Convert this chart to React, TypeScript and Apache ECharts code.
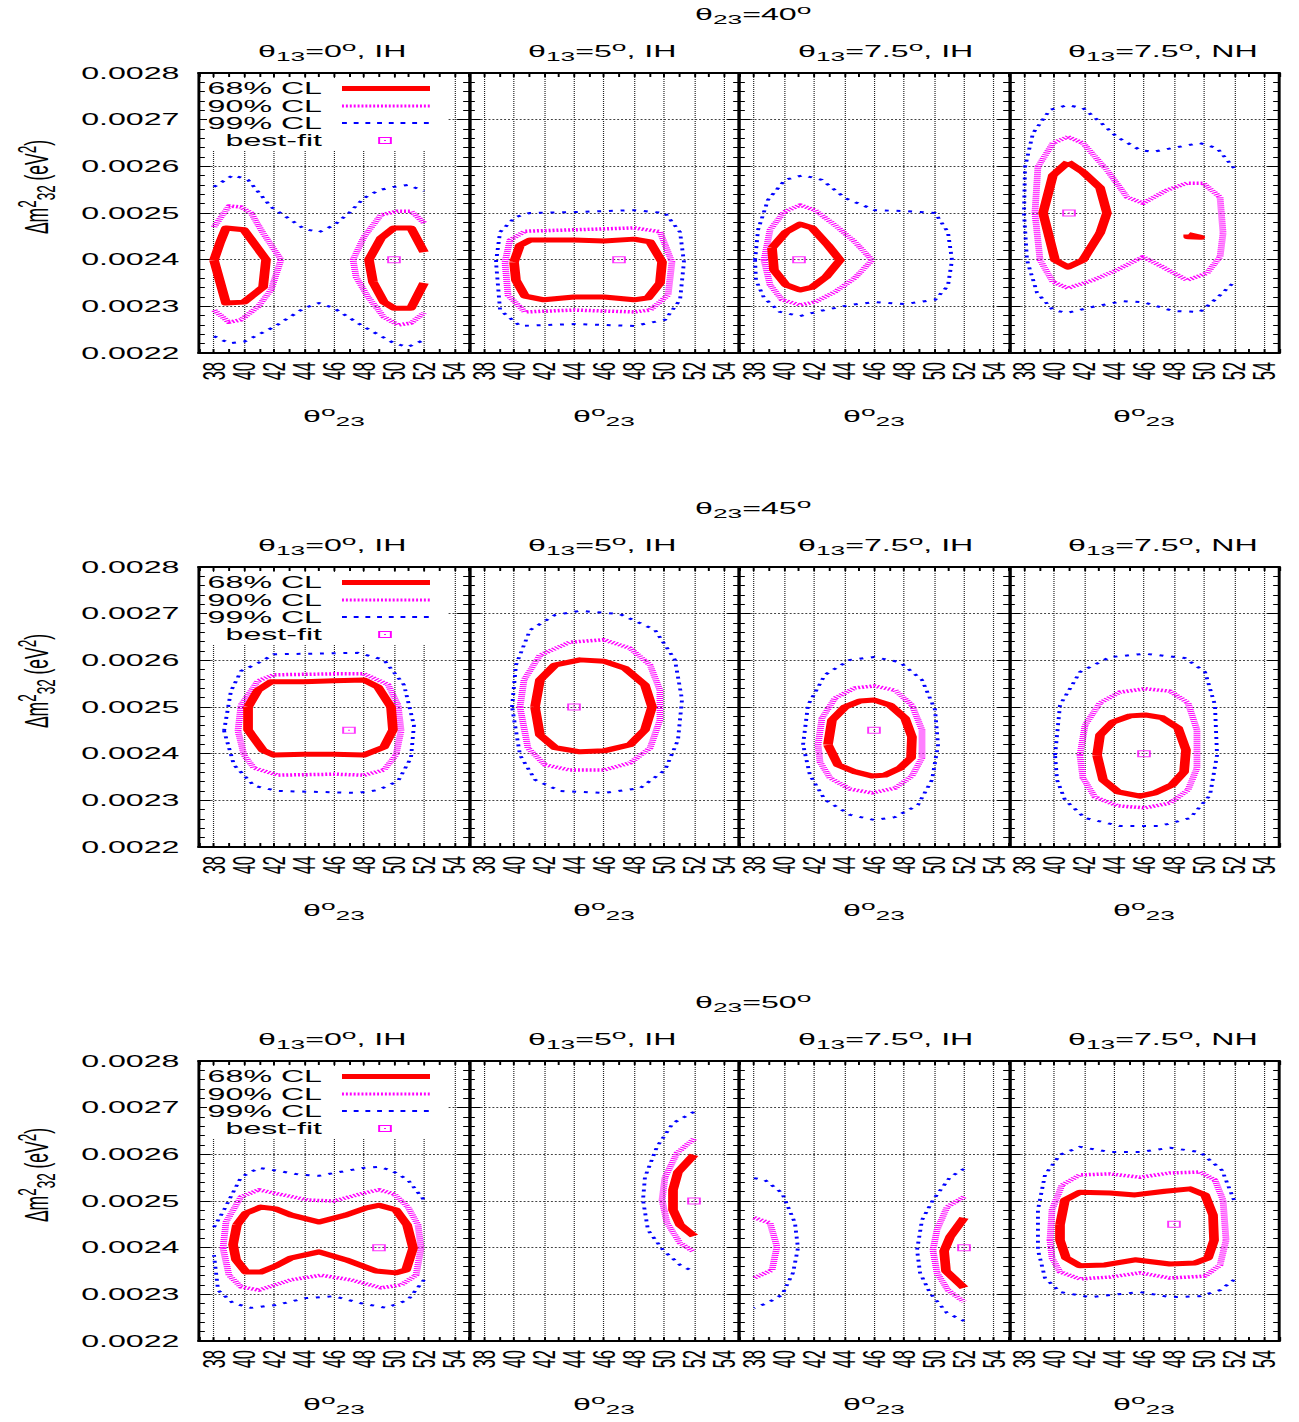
import React, { useEffect, useRef } from 'react';
import * as echarts from 'echarts';

type Pt = [number, number];
type Segment = Pt[];
type PanelContour = Segment[];

// The figure is laid out narrow and widened horizontally by CSS.
const STRETCH = 1.95;
const PAGE_W = 1299;
const PAGE_H = 1422;
const FONT = '"Liberation Sans", Arial, Helvetica, sans-serif';

// ---------- labels ----------
const theta23Values = ['40', '45', '50'];
const panelTheta13 = ['0', '5', '7.5', '7.5'];
const panelHierarchy = ['IH', 'IH', 'IH', 'NH'];
const legendNames = ['68% CL', '90% CL', '99% CL', 'best-fit'];
const xTickValues = [38, 40, 42, 44, 46, 48, 50, 52, 54];
const xRange: [number, number] = [37, 55];
const yRange: [number, number] = [0.0022, 0.0028];

// ---------- θ23 = 40° ----------
const row40_cl68: PanelContour[] = [
  [
    [[38.0, 0.002399], [38.4, 0.002436], [38.8, 0.002468], [40.0, 0.002464], [41.47, 0.0024], [41.27, 0.002341], [40.0, 0.002309], [38.8, 0.002307], [38.0, 0.002399]],
    [[52, 0.002416], [51.13, 0.002468], [50.0, 0.002468], [49.13, 0.002446], [48.33, 0.0024], [48.6, 0.002352], [49.33, 0.002309], [50.0, 0.002296], [51.13, 0.002296], [52, 0.00235]],
  ],
  [
    [[40, 0.002395], [40.4, 0.002431], [41.07, 0.002442], [44, 0.002442], [46, 0.00244], [48, 0.002444], [49.07, 0.002438], [49.87, 0.002395], [49.73, 0.00235], [48.93, 0.002318], [48, 0.002314], [46, 0.00232], [44, 0.00232], [42, 0.002314], [40.73, 0.002322], [40.13, 0.002356], [40, 0.002395]],
  ],
  [
    [[39.2, 0.002425], [40.13, 0.002459], [41.07, 0.002476], [41.87, 0.002468], [42.93, 0.002431], [43.73, 0.002399], [42.8, 0.002363], [41.87, 0.002341], [41.07, 0.002335], [40.13, 0.002346], [39.33, 0.002378], [39.2, 0.002425]],
  ],
  [
    [[40.93, 0.002609], [41.93, 0.002588], [43.07, 0.002554], [43.53, 0.0025], [43.07, 0.002457], [41.93, 0.002399], [40.93, 0.002384], [40.07, 0.002399], [39.27, 0.0025], [39.93, 0.002581], [40.93, 0.002609]],
    [[48.95, 0.002454], [48.95, 0.002449], [49.75, 0.002448], [48.95, 0.002454]],
  ],
];
const row40_cl90: PanelContour[] = [
  [
    [[38, 0.00247], [39, 0.002515], [39.8, 0.002513], [40.47, 0.0025], [41.27, 0.002457], [42.47, 0.0024], [41.8, 0.002335], [40.93, 0.002299], [39.8, 0.002271], [39, 0.002266], [38, 0.002292]],
    [[52, 0.002479], [51.13, 0.002504], [50.27, 0.002504], [49.13, 0.002496], [48.0, 0.002449], [47.27, 0.0024], [47.47, 0.002363], [48.27, 0.00232], [49.33, 0.002277], [50.27, 0.00226], [51.13, 0.002264], [52, 0.002286]],
  ],
  [
    [[39.4, 0.002395], [39.73, 0.002442], [40.73, 0.002461], [44, 0.002464], [48, 0.002468], [49.73, 0.00246], [50.53, 0.002395], [50.27, 0.002324], [49.07, 0.002292], [48, 0.002288], [44, 0.002292], [40.73, 0.002288], [39.6, 0.002324], [39.4, 0.002395]],
  ],
  [
    [[38.67, 0.002399], [39.07, 0.002464], [40, 0.002502], [41.07, 0.002517], [42.07, 0.002506], [43.4, 0.002474], [44.73, 0.002438], [45.87, 0.002399], [44.73, 0.002361], [43.4, 0.002331], [42.07, 0.002309], [41.07, 0.002303], [39.87, 0.002314], [39.07, 0.002346], [38.67, 0.002399]],
  ],
  [
    [[40.93, 0.002663], [41.93, 0.00265], [43.53, 0.002592], [44.87, 0.002534], [45.93, 0.002521], [47.53, 0.002549], [48.87, 0.002564], [49.93, 0.002564], [51.07, 0.002534], [51.27, 0.002457], [51.07, 0.002406], [50.2, 0.002371], [48.87, 0.002356], [47.27, 0.002384], [45.93, 0.002406], [44.2, 0.002378], [42.6, 0.002356], [40.93, 0.002339], [39.93, 0.002352], [39.07, 0.002399], [38.73, 0.0025], [38.93, 0.002599], [39.93, 0.00265], [40.93, 0.002663]],
  ],
];
const row40_cl99: PanelContour[] = [
  [
    [[38, 0.002556], [39.27, 0.002581], [40.27, 0.002571], [41.8, 0.002513], [43.13, 0.002485], [44, 0.002466], [45, 0.002459], [46, 0.002474], [47, 0.0025], [48, 0.002532], [49, 0.002549], [50, 0.002556], [50.93, 0.00256], [52, 0.002547]],
    [[38, 0.002236], [39, 0.002221], [40, 0.002224], [42, 0.002256], [44, 0.002296], [45, 0.002307], [46, 0.002296], [48, 0.002256], [50, 0.002221], [50.93, 0.002213], [52, 0.002228]],
  ],
  [
    [[38.8, 0.002395], [39.07, 0.002459], [40.07, 0.002491], [41.07, 0.0025], [44, 0.002502], [48, 0.002506], [50.07, 0.0025], [51.07, 0.002459], [51.33, 0.002395], [51.07, 0.002314], [50.07, 0.002271], [48, 0.002258], [44, 0.002262], [40.4, 0.002258], [39.07, 0.002292], [38.8, 0.002395]],
  ],
  [
    [[38.07, 0.002399], [38.27, 0.002464], [38.93, 0.002528], [40.07, 0.002571], [41.27, 0.002581], [42.53, 0.002571], [44.07, 0.002532], [46.07, 0.002506], [48.07, 0.002504], [50.07, 0.0025], [50.93, 0.002459], [51.2, 0.002399], [50.93, 0.002344], [50.07, 0.002314], [48.07, 0.002305], [46.07, 0.002309], [44.4, 0.002303], [42.4, 0.00229], [41.07, 0.002279], [39.73, 0.002288], [38.67, 0.002318], [38.13, 0.002356], [38.07, 0.002399]],
  ],
  [
    [[52, 0.002596], [50.87, 0.002639], [49.73, 0.00265], [48.2, 0.002641], [46.6, 0.002631], [45.73, 0.002635], [44.2, 0.002663], [43.07, 0.002695], [41.93, 0.002725], [40.87, 0.002731], [39.73, 0.002721], [38.6, 0.002671], [38.07, 0.002599], [38.0, 0.0025], [38.2, 0.002399], [38.87, 0.002329], [39.93, 0.002292], [40.87, 0.002286], [42.6, 0.002299], [44.6, 0.002311], [45.93, 0.002309], [47.93, 0.00229], [49.73, 0.002288], [50.87, 0.002318], [52, 0.002352]],
  ],
];
const row40_bestFit: Pt[] = [[50, 0.0024], [47, 0.0024], [41, 0.0024], [41, 0.0025]];

// ---------- θ23 = 45° ----------
const row45_cl68: PanelContour[] = [
  [
    [[40.27, 0.0025], [40.93, 0.002536], [41.8, 0.002554], [44, 0.002554], [46, 0.002556], [48, 0.002558], [48.93, 0.002543], [49.8, 0.0025], [49.93, 0.002451], [49.33, 0.002414], [48, 0.002397], [46, 0.002399], [44, 0.002399], [42, 0.002397], [41.27, 0.002407], [40.27, 0.002451], [40.27, 0.0025]],
  ],
  [
    [[41.4, 0.0025], [41.73, 0.002558], [42.73, 0.00259], [44.4, 0.002601], [46, 0.002598], [47.4, 0.002583], [48.73, 0.002547], [49.2, 0.0025], [48.73, 0.002451], [47.73, 0.002419], [46, 0.002406], [44.4, 0.002404], [42.73, 0.002413], [41.73, 0.00244], [41.4, 0.0025]],
  ],
  [
    [[42.93, 0.002419], [43.2, 0.002472], [44.07, 0.0025], [45.07, 0.002513], [46, 0.002515], [47.07, 0.002504], [48.07, 0.002476], [48.53, 0.002436], [48.47, 0.002391], [47.73, 0.002369], [46.73, 0.002354], [45.87, 0.002352], [44.73, 0.002361], [43.6, 0.002376], [42.93, 0.002419]],
  ],
  [
    [[42.87, 0.002397], [43.07, 0.00244], [43.93, 0.002468], [45.07, 0.002481], [46.07, 0.002483], [47.2, 0.002477], [48.27, 0.002455], [48.8, 0.002408], [48.67, 0.002361], [47.87, 0.002333], [46.73, 0.002316], [45.73, 0.002309], [44.27, 0.002318], [43.27, 0.002344], [42.87, 0.002397]],
  ],
];
const row45_cl90: PanelContour[] = [
  [
    [[39.6, 0.002449], [39.8, 0.002504], [40.93, 0.002556], [42, 0.002569], [46, 0.002571], [48, 0.002571], [49.6, 0.002548], [50.27, 0.002504], [50.47, 0.002449], [50.13, 0.002397], [49.33, 0.002365], [48, 0.002354], [46, 0.002356], [42.27, 0.002354], [40.67, 0.002369], [40, 0.002397], [39.6, 0.002449]],
  ],
  [
    [[40.4, 0.0025], [40.67, 0.002558], [41.73, 0.002611], [43.73, 0.002639], [46, 0.002644], [47.73, 0.002626], [49.07, 0.00259], [49.73, 0.002536], [49.73, 0.002472], [49.07, 0.002412], [47.73, 0.00238], [46, 0.002365], [43.73, 0.002365], [42.07, 0.002376], [40.93, 0.002412], [40.4, 0.0025]],
  ],
  [
    [[42.27, 0.002419], [42.53, 0.002476], [43.4, 0.002519], [44.73, 0.002541], [46, 0.002545], [47.4, 0.002536], [48.53, 0.002504], [49.2, 0.002451], [49.2, 0.002391], [48.53, 0.002352], [47.4, 0.002326], [45.87, 0.002316], [44.4, 0.002324], [43.07, 0.002348], [42.4, 0.002382], [42.27, 0.002419]],
  ],
  [
    [[41.73, 0.002397], [42.07, 0.002461], [43.07, 0.002509], [44.4, 0.002532], [46.07, 0.002539], [47.73, 0.002534], [48.93, 0.002509], [49.53, 0.002451], [49.53, 0.002369], [48.93, 0.002322], [47.73, 0.002294], [46.07, 0.002284], [44.27, 0.002288], [42.73, 0.002307], [41.93, 0.002348], [41.73, 0.002397]],
  ],
];
const row45_cl99: PanelContour[] = [
  [
    [[38.67, 0.002449], [39.13, 0.002534], [39.8, 0.002577], [40.93, 0.002594], [42, 0.002613], [47.6, 0.002616], [49.33, 0.002601], [50.67, 0.002547], [51.33, 0.002461], [51.13, 0.002391], [50.27, 0.002341], [48.93, 0.002322], [47.6, 0.002316], [42.27, 0.00232], [40.67, 0.002331], [39.33, 0.002376], [38.67, 0.002449]],
  ],
  [
    [[39.87, 0.0025], [40.13, 0.00259], [41.07, 0.002665], [42.73, 0.002697], [44.4, 0.002706], [47.07, 0.002699], [49.4, 0.002665], [50.73, 0.002601], [51.2, 0.002516], [50.93, 0.002429], [50.07, 0.002365], [48.4, 0.002326], [46, 0.002316], [43.07, 0.00232], [41.4, 0.002344], [40.4, 0.002397], [39.87, 0.0025]],
  ],
  [
    [[41.27, 0.002419], [41.6, 0.002504], [42.73, 0.002569], [44.4, 0.002601], [46, 0.002607], [47.73, 0.002596], [49.2, 0.002558], [50.07, 0.002494], [50.27, 0.002419], [49.87, 0.002344], [48.93, 0.00229], [47.4, 0.002264], [46, 0.002258], [44.4, 0.002269], [42.73, 0.002301], [41.73, 0.002354], [41.27, 0.002419]],
  ],
  [
    [[40.07, 0.002397], [40.4, 0.002504], [41.73, 0.002575], [43.73, 0.002607], [46.07, 0.002614], [48.73, 0.002605], [50.07, 0.002575], [50.73, 0.002504], [50.87, 0.002397], [50.4, 0.002311], [49.07, 0.002262], [47.07, 0.002245], [44.4, 0.002245], [42.07, 0.002262], [40.73, 0.002301], [40.2, 0.002344], [40.07, 0.002397]],
  ],
];
const row45_bestFit: Pt[] = [[47, 0.00245], [44, 0.0025], [46, 0.00245], [46, 0.0024]];

// ---------- θ23 = 50° ----------
const row50_cl68: PanelContour[] = [
  [
    [[39.53, 0.002449], [40.13, 0.002474], [41.13, 0.002487], [42.13, 0.002483], [43.13, 0.00247], [45, 0.002455], [46.8, 0.00247], [48.13, 0.002485], [49, 0.002491], [50.13, 0.002481], [50.87, 0.002449], [51.27, 0.002399], [50.8, 0.002352], [50.13, 0.002346], [48.8, 0.00235], [46.8, 0.002374], [45, 0.002391], [43.13, 0.002378], [42.13, 0.002361], [41.13, 0.002348], [40.13, 0.002348], [39.47, 0.002374], [39.27, 0.002406], [39.53, 0.002449]],
  ],
  [
    [[52, 0.002599], [50.93, 0.002562], [50.6, 0.002524], [50.6, 0.002481], [51.07, 0.002449], [52, 0.002425]],
  ],
  [
    [[52, 0.002464], [51.07, 0.002423], [50.67, 0.002393], [50.8, 0.00235], [52, 0.002314]],
  ],
  [
    [[40.4, 0.002449], [40.73, 0.002502], [41.73, 0.002519], [43.73, 0.002517], [45.4, 0.002513], [47.4, 0.002521], [49.07, 0.002526], [50.07, 0.002513], [50.6, 0.00247], [50.67, 0.002416], [50.27, 0.002378], [49.4, 0.002367], [47.73, 0.002365], [45.4, 0.002374], [43.4, 0.002363], [41.73, 0.002361], [40.8, 0.002378], [40.4, 0.002416], [40.4, 0.002449]],
  ],
];
const row50_cl90: PanelContour[] = [
  [
    [[38.6, 0.002399], [38.8, 0.002455], [39.8, 0.002509], [41, 0.002524], [42, 0.002517], [44.27, 0.002502], [46, 0.0025], [48, 0.002517], [49, 0.002524], [50, 0.002515], [50.93, 0.002487], [51.6, 0.002449], [51.8, 0.002399], [51.47, 0.002341], [50.47, 0.00232], [49.13, 0.002314], [47.13, 0.002331], [45.13, 0.002341], [43.13, 0.002331], [41, 0.002309], [39.8, 0.002316], [39, 0.002341], [38.6, 0.002399]],
  ],
  [
    [[52, 0.002633], [50.87, 0.002603], [50.07, 0.002551], [49.87, 0.002502], [50.2, 0.002453], [51.07, 0.00241], [52, 0.002391]],
  ],
  [
    [[38, 0.002464], [39.07, 0.002453], [39.53, 0.002402], [39.2, 0.002352], [38, 0.002335]],
    [[52, 0.002509], [50.87, 0.002487], [50.2, 0.002438], [49.93, 0.002395], [50.2, 0.002346], [50.93, 0.002309], [52, 0.002284]],
  ],
  [
    [[39.73, 0.002416], [39.87, 0.002481], [40.53, 0.002534], [41.73, 0.002556], [43.73, 0.002558], [45.73, 0.002551], [47.73, 0.00256], [49.73, 0.002562], [50.73, 0.002545], [51.27, 0.002502], [51.47, 0.002416], [51.07, 0.002363], [50.07, 0.002339], [47.73, 0.002335], [45.73, 0.002346], [43.73, 0.002337], [41.73, 0.002333], [40.4, 0.002348], [39.87, 0.002378], [39.73, 0.002416]],
  ],
];
const row50_cl99: PanelContour[] = [
  [
    [[38, 0.002444], [38.67, 0.002481], [39.8, 0.002551], [41, 0.002571], [42, 0.002566], [43.8, 0.002556], [45, 0.002554], [46, 0.00256], [48, 0.002571], [49, 0.002573], [49.8, 0.002566], [50.93, 0.002545], [52, 0.002502]],
    [[52, 0.002331], [50.93, 0.002288], [49.47, 0.002271], [47.8, 0.002281], [46, 0.002296], [44.13, 0.002292], [42.13, 0.002277], [40.47, 0.002271], [39.27, 0.002281], [38.27, 0.002309], [38, 0.002384]],
  ],
  [
    [[52, 0.002691], [50.6, 0.002667], [49.53, 0.002616], [48.73, 0.002551], [48.6, 0.002502], [48.93, 0.002438], [49.93, 0.002395], [51.07, 0.002363], [52, 0.002348]],
  ],
  [
    [[38, 0.002549], [38.73, 0.002545], [39.87, 0.002517], [40.73, 0.002453], [40.93, 0.002399], [40.6, 0.002346], [39.87, 0.002299], [38.87, 0.002281], [38, 0.002271]],
    [[52, 0.002569], [51.07, 0.002551], [49.93, 0.002502], [49.2, 0.002459], [48.87, 0.002395], [49.07, 0.002346], [49.73, 0.002303], [50.87, 0.00226], [52, 0.002243]],
  ],
  [
    [[52, 0.002502], [51.2, 0.002566], [49.73, 0.002605], [47.73, 0.002614], [45.73, 0.002605], [43.73, 0.002605], [41.73, 0.002616], [40.4, 0.002599], [39.4, 0.002556], [38.93, 0.002481], [38.93, 0.002395], [39.4, 0.002335], [40.4, 0.002305], [42.4, 0.002294], [45.73, 0.002305], [47.73, 0.002294], [49.73, 0.002296], [51.07, 0.002309], [52, 0.002331]],
  ],
];
const row50_bestFit: Pt[] = [[49, 0.0024], [52, 0.0025], [52, 0.0024], [48, 0.00245]];

// ---------- styling ----------
const clStyles = [
  { color: '#ff0000', width: 5, type: 'solid' as any },
  { color: '#ff00ff', width: 3.5, type: [1, 1] as any },
  { color: '#0000ff', width: 2, type: [2, 4] as any },
];
const BEST_FIT_COLOR = '#ff00ff';

// layout (reference-pixel units; x values are divided by STRETCH)
const PANEL_LEFT0 = 199;
const PANEL_W = 270;
const PLOT_TOP0 = 73;
const PLOT_H = 280;
const ROW_STEP = 494;
const px = (v: number) => v / STRETCH;

const RICH: any = {
  n: { fontFamily: FONT, fontSize: 16.5, lineHeight: 24, color: '#000' },
  sub: { fontFamily: FONT, fontSize: 13.5, lineHeight: 14, verticalAlign: 'bottom', color: '#000' },
  sup: { fontFamily: FONT, fontSize: 13.5, lineHeight: 10, verticalAlign: 'top', color: '#000' },
};
const RICH_Y: any = {
  n: { fontFamily: FONT, fontSize: 17.5, lineHeight: 24, color: '#000' },
  sub: { fontFamily: FONT, fontSize: 13.5, lineHeight: 14, verticalAlign: 'bottom', color: '#000' },
  sup: { fontFamily: FONT, fontSize: 13.5, lineHeight: 10, verticalAlign: 'top', color: '#000' },
};

function textEl(text: string, x: number, y: number, rich: any, align: string, extra: any = {}) {
  return {
    type: 'text',
    z: 60,
    x,
    y,
    ...extra,
    style: {
      text,
      rich,
      font: `16.5px ${FONT}`,
      fill: '#000',
      align,
      verticalAlign: 'middle',
      textAlign: align,
      textVerticalAlign: 'middle',
    },
  };
}

function buildOption() {
  const grid: any[] = [];
  const xAxis: any[] = [];
  const yAxis: any[] = [];
  const series: any[] = [];
  const graphic: any[] = [];

  const rows = [
    { theta: theta23Values[0], cls: [row40_cl68, row40_cl90, row40_cl99], bf: row40_bestFit },
    { theta: theta23Values[1], cls: [row45_cl68, row45_cl90, row45_cl99], bf: row45_bestFit },
    { theta: theta23Values[2], cls: [row50_cl68, row50_cl90, row50_cl99], bf: row50_bestFit },
  ];

  rows.forEach((row, r) => {
    const top = PLOT_TOP0 + ROW_STEP * r;

    // row heading
    graphic.push(textEl(`{n|θ}{sub|23}{n|=${row.theta}}{sup|o}`, px(695), 14 + ROW_STEP * r, RICH, 'left'));
    // vertical axis name
    graphic.push(
      textEl('{n|Δm}{sup|2}{sub|32}{n| (eV}{sup|2}{n|)}', px(36), 187 + ROW_STEP * r, RICH_Y, 'center', {
        rotation: Math.PI / 2,
      })
    );

    for (let c = 0; c < 4; c++) {
      const k = r * 4 + c;
      const left = px(PANEL_LEFT0 + PANEL_W * c);
      grid.push({ left, top, width: px(PANEL_W), height: PLOT_H, containLabel: false });

      // panel heading
      graphic.push(
        textEl(
          `{n|θ}{sub|13}{n|=${panelTheta13[c]}}{sup|o}{n|, ${panelHierarchy[c]}}`,
          px(PANEL_LEFT0 + 59 + PANEL_W * c),
          51.5 + ROW_STEP * r,
          RICH,
          'left'
        )
      );

      const xCommon = {
        gridIndex: k,
        type: 'value',
        min: xRange[0],
        max: xRange[1],
        interval: 1,
        axisLine: { show: true, onZero: false, lineStyle: { color: '#000', width: 2.2 } },
        axisTick: { show: true, inside: true, length: 4, lineStyle: { color: '#000', width: 1 } },
      };
      xAxis.push({
        ...xCommon,
        position: 'bottom',
        axisLabel: {
          show: true,
          rotate: 90,
          margin: 9,
          color: '#000',
          fontFamily: FONT,
          fontSize: 16.5,
          formatter: (v: number) => (xTickValues.indexOf(Math.round(v)) >= 0 ? String(Math.round(v)) : ''),
        },
        // one line per unit; every other one is transparent so only even degrees show
        splitLine: {
          show: true,
          showMinLine: true,
          showMaxLine: true,
          lineStyle: { color: ['rgba(0,0,0,0)', '#222'], width: 0.6, type: [1, 1] },
        },
        name: '{n|θ}{sup|o}{sub|23}',
        nameLocation: 'middle',
        nameGap: 51,
        nameTextStyle: { rich: RICH },
      });
      xAxis.push({
        ...xCommon,
        position: 'top',
        axisLabel: { show: false },
        splitLine: { show: false },
      });

      const yCommon = {
        gridIndex: k,
        type: 'value',
        min: yRange[0],
        max: yRange[1],
        interval: 0.0001,
        axisLine: { show: true, onZero: false, lineStyle: { color: '#000', width: 1.5 } },
        axisTick: { show: true, inside: true, length: 6, lineStyle: { color: '#000', width: 1 } },
        minorTick: { show: true, splitNumber: 5, length: 3, lineStyle: { color: '#000', width: 1 } },
        minorSplitLine: { show: false },
      };
      yAxis.push({
        ...yCommon,
        position: 'left',
        axisLabel: {
          show: c === 0,
          margin: 10,
          color: '#000',
          fontFamily: FONT,
          fontSize: 16.5,
          formatter: (v: number) => v.toFixed(4),
        },
        splitLine: { show: true, lineStyle: { color: '#444', width: 1, type: [1, 1] } },
      });
      yAxis.push({
        ...yCommon,
        position: 'right',
        axisLabel: { show: false },
        splitLine: { show: false },
      });

      const xi = 2 * k;
      const yi = 2 * k;
      row.cls.forEach((panels, i) => {
        panels[c].forEach((seg) => {
          series.push({
            type: 'line',
            xAxisIndex: xi,
            yAxisIndex: yi,
            data: seg,
            symbol: 'none',
            showSymbol: false,
            silent: true,
            clip: true,
            animation: false,
            z: 5 - i,
            lineStyle: { ...clStyles[i], join: 'round', cap: 'butt' },
          });
        });
      });
      series.push({
        type: 'scatter',
        xAxisIndex: xi,
        yAxisIndex: yi,
        data: [row.bf[c]],
        symbol: 'rect',
        symbolSize: [6, 6],
        silent: true,
        z: 6,
        itemStyle: { color: 'rgba(0,0,0,0)', borderColor: BEST_FIT_COLOR, borderWidth: 1 },
      });
      series.push({
        type: 'scatter',
        xAxisIndex: xi,
        yAxisIndex: yi,
        data: [row.bf[c]],
        symbol: 'rect',
        symbolSize: [1, 1],
        silent: true,
        z: 6,
        itemStyle: { color: BEST_FIT_COLOR },
      });
    }

    // key inside the first panel of the row
    const lx = px(PANEL_LEFT0);
    graphic.push({
      type: 'rect',
      z: 50,
      shape: { x: lx + px(8), y: top + 5, width: px(240), height: 72 },
      style: { fill: '#fff' },
    });
    const keyY = [15.5, 33, 50, 67.5];
    legendNames.forEach((name, i) => {
      graphic.push({
        type: 'text',
        z: 60,
        x: lx + px(123),
        y: top + keyY[i],
        style: {
          text: name,
          font: `16.5px ${FONT}`,
          fill: '#000',
          align: 'right',
          verticalAlign: 'middle',
          textAlign: 'right',
          textVerticalAlign: 'middle',
        },
      });
      if (i < 3) {
        const st = clStyles[i];
        graphic.push({
          type: 'line',
          z: 60,
          shape: { x1: lx + px(143), y1: top + keyY[i], x2: lx + px(231), y2: top + keyY[i] },
          style: {
            stroke: st.color,
            lineWidth: i === 1 ? 3 : st.width,
            lineDash: i === 0 ? null : i === 1 ? [1, 1] : [2.5, 3.5],
          },
        });
      }
    });
    graphic.push({
      type: 'rect',
      z: 60,
      shape: { x: lx + px(186) - 3, y: top + keyY[3] - 3, width: 6, height: 6 },
      style: { fill: 'none', stroke: BEST_FIT_COLOR, lineWidth: 1 },
    });
    graphic.push({
      type: 'rect',
      z: 60,
      shape: { x: lx + px(186) - 0.5, y: top + keyY[3] - 0.5, width: 1, height: 1 },
      style: { fill: BEST_FIT_COLOR },
    });
  });

  return {
    animation: false,
    backgroundColor: '#fff',
    grid,
    xAxis,
    yAxis,
    series,
    graphic,
  };
}

export default function App() {
  const ref = useRef<HTMLDivElement>(null);
  useEffect(() => {
    if (!ref.current) return;
    const chart = echarts.init(ref.current, undefined, { renderer: 'svg' });
    chart.setOption(buildOption() as any);
    return () => chart.dispose();
  }, []);
  return (
    <div
      style={{
        position: 'absolute',
        left: 0,
        top: 0,
        width: PAGE_W,
        height: PAGE_H,
        overflow: 'hidden',
        background: '#fff',
      }}
    >
      <div
        ref={ref}
        style={{
          width: PAGE_W / STRETCH,
          height: PAGE_H,
          transform: `scaleX(${STRETCH})`,
          transformOrigin: '0 0',
        }}
      />
    </div>
  );
}
